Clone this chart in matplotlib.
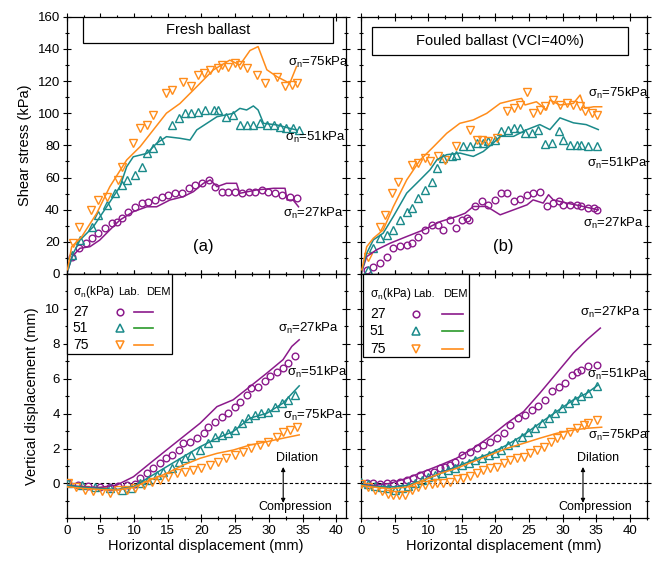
import matplotlib
matplotlib.use("Agg")
import matplotlib.pyplot as plt
from matplotlib.patches import Rectangle
from matplotlib.ticker import MultipleLocator

plt.rcParams['font.family'] = ['Liberation Sans', 'DejaVu Sans']
plt.rcParams['mathtext.fontset'] = 'custom'
plt.rcParams['mathtext.rm'] = 'Liberation Sans'
plt.rcParams['mathtext.it'] = 'Liberation Sans'

PURPLE = '#8b1a8b'
TEAL = '#1a8a8a'
GREEN = '#2a9a2a'
ORANGE = '#ff8c1a'

# ---------------- Fresh ballast: shear stress ----------------
fa_dem75_x = [0, 0.74, 2.2, 4.45, 6.4, 8.9, 10.9, 12.85, 14.8, 16.8, 19.3, 21.75, 24.2, 25.7, 27.2, 28.4, 29.7, 31.2, 33.1, 34.1]
fa_dem75_y = [0, 17, 23, 37.7, 54.3, 70.9, 79.2, 89.6, 100, 106, 116.5, 126.9, 133, 130, 139, 141.4, 127, 122.7, 118.6, 129]
fa_lab75_x = [0.98, 1.83, 3.56, 4.69, 5.93, 7.66, 8.16, 9.88, 10.9, 11.9, 12.85, 14.8, 15.6, 17.3, 18.5, 19.5, 20.4, 21.3, 22.5, 23.1, 24.0, 25.0, 25.7, 26.7, 28.2, 29.4, 31.2, 32.4, 33.4, 34.1]
fa_lab75_y = [19.1, 29.4, 39.8, 46, 48.1, 58.5, 66.7, 81.3, 90.6, 92.7, 98.9, 112.4, 114.4, 119.6, 116.9, 123.8, 124.8, 126.9, 127.9, 130, 128.9, 131.4, 130, 127.9, 123.8, 118.6, 122.7, 116.9, 117.5, 118.6]
fa_dem51_x = [0, 0.98, 1.97, 3.95, 5.93, 7.9, 8.9, 9.88, 11.9, 13.35, 14.8, 16.8, 18.3, 19.3, 20.8, 22.3, 24.7, 25.7, 26.7, 27.7, 28.4, 29.2, 31.2, 33.1, 34.1]
fa_dem51_y = [0, 12.9, 21.1, 29.4, 41.8, 54.3, 66.7, 72.9, 75, 81.3, 85.4, 84.4, 83.3, 89.6, 93.7, 97.8, 99.9, 103, 102, 104.5, 102, 93.7, 92.7, 90.6, 89.6]
fa_lab51_x = [0.8, 1.97, 3.7, 4.69, 5.93, 7.17, 8.16, 8.9, 10.1, 11.1, 11.9, 12.85, 13.85, 15.6, 16.6, 17.6, 18.5, 19.5, 20.5, 21.8, 22.5, 23.7, 24.7, 25.7, 26.7, 27.7, 28.7, 29.7, 30.7, 31.7, 32.6, 33.6, 34.4]
fa_lab51_y = [11.8, 21.1, 29.4, 36.7, 42.9, 50.2, 55.3, 58.5, 61.6, 66.7, 75, 78.2, 83.3, 92.7, 96.8, 99.9, 99.9, 100.9, 102, 102, 102, 97.8, 98.9, 92.7, 92.7, 92.7, 93.7, 92.7, 92.7, 91.6, 90.6, 90.6, 89.6]
fa_dem27_x = [0, 0.8, 1.97, 3.45, 4.9, 6.4, 7.9, 9.9, 11.9, 13.35, 15.3, 17.3, 18.8, 20.3, 21.3, 22.3, 23.7, 25.2, 25.7, 28.2, 30.7, 32.4, 32.7, 33.6, 34.4]
fa_dem27_y = [0, 10.8, 16, 17, 21.1, 27.4, 33.6, 38.8, 41.8, 41.8, 46, 48.1, 51.2, 56.4, 58.5, 54.3, 56.4, 56.4, 50.2, 52.3, 53.3, 53.3, 46, 46, 41.8]
fa_lab27_x = [0.8, 1.89, 2.93, 3.7, 4.69, 5.7, 6.68, 7.4, 8.16, 9.15, 10.1, 11.1, 12.1, 13.1, 14.1, 15.1, 16.1, 17.1, 18.1, 19.1, 20.1, 21.1, 22.0, 23.0, 24.0, 25.0, 26.0, 27.0, 28.0, 29.0, 29.9, 30.9, 31.9, 33.1, 34.1]
fa_lab27_y = [10.8, 16, 19.1, 22.2, 25.3, 28.4, 31.5, 32.5, 34.6, 38.8, 41.8, 43.9, 45, 46, 48.1, 49.1, 50.2, 50.2, 53.3, 55.3, 56.4, 58.5, 54.3, 51.2, 51.2, 51.2, 50.2, 51.2, 51.2, 52.3, 51.2, 50.2, 49.1, 48.1, 47]

# ---------------- Fouled ballast: shear stress ----------------
fo_dem75_x = [0, 0.85, 1.83, 3.3, 4.8, 6.8, 8.8, 10.8, 12.75, 14.7, 16.7, 18.7, 20.7, 22.7, 23.9, 24.4, 26.1, 27.6, 28.1, 29.6, 31.6, 32.6, 33.3, 34.6, 35.8]
fo_dem75_y = [0, 17, 22.2, 27.4, 41.8, 58.5, 70.9, 79.2, 87.5, 93.7, 95.8, 99.9, 106.1, 108.2, 109.2, 105.1, 107.1, 102, 108.2, 105.1, 106.1, 111.3, 103, 104, 104]
fo_lab75_x = [1.09, 2.83, 3.57, 4.56, 5.55, 7.54, 8.53, 9.52, 10.27, 11.5, 12.5, 14.2, 16.2, 17.2, 17.96, 18.9, 20.2, 21.7, 22.7, 23.7, 24.7, 25.6, 26.6, 27.4, 28.6, 29.6, 30.6, 31.6, 32.6, 33.3, 34.3, 35.1]
fo_lab75_y = [10.8, 29.5, 36.8, 50.3, 57.5, 68, 69, 72.1, 70, 73.1, 71.1, 79.4, 89.8, 83.5, 83.5, 82.5, 84.6, 101.2, 103.3, 105.4, 113, 100.2, 102.2, 104.3, 108.5, 105.4, 106.4, 105.4, 104.3, 101.2, 100.2, 99.1]
fo_dem51_x = [0, 0.85, 1.83, 3.3, 4.8, 6.8, 8.8, 10.27, 11.3, 12.75, 14.7, 16.7, 18.2, 19.7, 20.7, 22.7, 24.7, 26.6, 28.1, 29.6, 31.6, 33.5, 35.3]
fo_dem51_y = [0, 12.9, 21.2, 25.4, 35.7, 50.3, 58.6, 64.8, 71.1, 74.2, 75.2, 73.1, 76.2, 81.5, 85.6, 85.6, 89.8, 92.9, 89.8, 97.1, 94, 92.9, 89.8]
fo_lab51_x = [1.09, 1.83, 2.83, 3.82, 4.8, 5.8, 6.8, 7.54, 8.53, 9.52, 10.5, 11.3, 12.25, 13.5, 14.2, 15.2, 16.2, 17.2, 18.2, 18.9, 19.9, 20.9, 21.9, 22.7, 23.7, 24.4, 25.4, 26.4, 27.4, 28.4, 29.4, 30.1, 31.1, 32.1, 32.8, 33.8, 35.1]
fo_lab51_y = [2.5, 16, 22.2, 24.3, 27.4, 33.7, 38.8, 41, 47.2, 52.4, 57.5, 65.9, 72.1, 73.1, 74.2, 79.4, 79.4, 81.5, 81.5, 82.5, 83.5, 88.7, 89.8, 90.8, 90.8, 87.7, 87.7, 89.8, 81, 81.5, 88.7, 83.5, 80.4, 80.4, 80.4, 79.4, 79.4]
fo_dem27_x = [0, 0.85, 2.3, 4.3, 6.8, 9.3, 11.8, 14.2, 15.5, 16.7, 18.7, 20.7, 22.7, 24.7, 25.6, 27.1, 27.9, 28.6, 30.6, 32.6, 35.3]
fo_dem27_y = [0, 10.8, 15, 19.1, 23.3, 27.4, 32.6, 35.7, 37.8, 42, 42, 36.8, 39.9, 43, 46.1, 44.1, 49.3, 46.1, 44.1, 42.4, 39.9]
fo_lab27_x = [0.85, 1.83, 2.83, 3.82, 4.8, 5.8, 6.8, 7.54, 8.53, 9.52, 10.5, 11.5, 12.25, 13.25, 14.2, 15.0, 15.7, 16.0, 17.0, 17.96, 18.9, 19.9, 20.9, 21.7, 22.7, 23.7, 24.7, 25.6, 26.6, 27.6, 28.6, 29.4, 30.1, 31.1, 32.1, 32.8, 33.8, 34.6, 35.1]
fo_lab27_y = [2.5, 4.6, 6.7, 10.8, 16, 17.5, 18.1, 19.1, 23.3, 27.4, 30.5, 30.5, 27.4, 33.7, 28.5, 33.7, 34.7, 33.7, 42, 45.1, 43, 46.1, 50.3, 50.3, 45.1, 46.8, 49.3, 50.3, 50.7, 42, 44.1, 45.1, 43, 43, 43, 42, 41, 41, 39.9]

# ---------------- Fresh ballast: vertical displacement ----------------
fa_vdem27_x = [0, 2.5, 4.9, 7.4, 9.9, 12.35, 14.8, 17.3, 19.8, 22.3, 24.7, 27.2, 29.7, 32.1, 33.4, 34.5]
fa_vdem27_y = [-0.1, -0.2, -0.23, -0.1, 0.38, 1.15, 1.91, 2.68, 3.45, 4.4, 4.79, 5.55, 6.32, 7.09, 7.85, 8.23]
fa_vlab27_x = [0.24, 1.72, 3.2, 4.9, 6.4, 7.66, 8.9, 10.1, 10.9, 11.9, 12.85, 13.85, 14.8, 15.6, 16.6, 17.3, 18.3, 19.3, 20.3, 21.0, 22.0, 23.0, 24.0, 25.0, 25.7, 26.7, 27.4, 28.4, 29.4, 30.2, 31.2, 32.1, 32.9, 33.9]
fa_vlab27_y = [0.03, -0.1, -0.15, -0.19, -0.19, -0.15, -0.1, -0.04, 0.29, 0.57, 0.86, 1.15, 1.44, 1.63, 1.91, 2.3, 2.39, 2.59, 2.87, 3.25, 3.54, 3.83, 4.02, 4.4, 4.69, 5.07, 5.46, 5.55, 5.84, 6.13, 6.41, 6.61, 6.9, 7.28]
fa_vdem51_x = [0, 2.5, 4.9, 7.4, 9.9, 12.35, 14.8, 17.3, 19.8, 22.3, 24.7, 27.2, 29.7, 32.1, 34.5]
fa_vdem51_y = [-0.1, -0.23, -0.29, -0.35, -0.19, 0.38, 0.95, 1.53, 2.1, 2.59, 2.97, 3.74, 4.02, 4.6, 5.59]
fa_vlab51_x = [0.24, 2.2, 4.2, 6.4, 8.16, 9.6, 10.9, 12.1, 13.35, 14.3, 15.6, 16.6, 17.6, 18.5, 19.8, 21.0, 22.0, 23.0, 24.0, 25.0, 26.0, 26.9, 27.9, 28.9, 29.9, 30.9, 31.9, 32.9, 33.9]
fa_vlab51_y = [0.03, -0.1, -0.19, -0.29, -0.38, -0.29, 0, 0.19, 0.48, 0.67, 0.86, 1.25, 1.44, 1.63, 1.91, 2.3, 2.68, 2.78, 2.87, 3.06, 3.45, 3.74, 3.93, 4.02, 4.12, 4.4, 4.6, 4.79, 5.07]
fa_vdem75_x = [0, 2.5, 4.9, 7.4, 9.9, 12.35, 14.8, 17.3, 19.8, 22.3, 24.7, 27.2, 29.7, 32.1, 34.5]
fa_vdem75_y = [-0.19, -0.29, -0.35, -0.38, -0.23, 0.19, 0.57, 1.05, 1.44, 1.72, 1.91, 2.2, 2.39, 2.59, 2.78]
fa_vlab75_x = [0.24, 1.4, 2.7, 3.9, 5.2, 6.4, 7.66, 8.9, 10.1, 11.4, 12.6, 13.85, 15.1, 16.3, 17.6, 18.8, 20.0, 21.3, 22.5, 23.7, 25.0, 26.2, 27.4, 28.7, 29.9, 31.2, 32.1, 33.1, 34.1]
fa_vlab75_y = [0, -0.19, -0.35, -0.42, -0.42, -0.54, -0.38, -0.35, -0.29, -0.1, 0.1, 0.19, 0.38, 0.57, 0.67, 0.77, 0.86, 1.05, 1.25, 1.44, 1.63, 1.82, 2.01, 2.2, 2.39, 2.68, 2.97, 3.06, 3.25]

# ---------------- Fouled ballast: vertical displacement ----------------
fo_vdem27_x = [0, 1.83, 4.3, 6.8, 9.3, 11.8, 14.2, 16.7, 19.2, 21.7, 24.2, 26.6, 29.1, 31.6, 33.6, 35.6]
fo_vdem27_y = [-0.06, -0.12, 0, 0.29, 0.67, 1.05, 1.44, 2.01, 2.68, 3.45, 4.12, 5.17, 6.32, 7.47, 8.23, 8.9]
fo_vlab27_x = [0, 0.85, 1.83, 2.83, 3.82, 4.8, 5.8, 6.8, 7.8, 8.8, 9.8, 10.8, 11.8, 12.5, 13.25, 14.0, 15.0, 16.2, 17.2, 18.2, 19.2, 20.2, 21.2, 22.2, 23.4, 24.4, 25.4, 26.4, 27.4, 28.4, 29.4, 30.4, 31.4, 32.1, 32.8, 33.8, 35.1]
fo_vlab27_y = [0.03, 0, 0, -0.04, 0, 0.03, 0.09, 0.19, 0.29, 0.48, 0.57, 0.67, 0.86, 0.96, 1.05, 1.25, 1.63, 1.82, 2.01, 2.2, 2.39, 2.59, 2.87, 3.35, 3.74, 3.93, 4.22, 4.41, 4.79, 5.27, 5.55, 5.75, 6.22, 6.41, 6.51, 6.7, 6.8]
fo_vdem51_x = [0, 1.83, 4.3, 6.8, 9.3, 11.8, 14.2, 16.7, 19.2, 21.7, 24.2, 26.6, 29.1, 31.6, 33.6, 35.3]
fo_vdem51_y = [-0.06, -0.17, -0.21, -0.12, 0.19, 0.57, 0.96, 1.34, 1.72, 2.2, 2.78, 3.45, 4.12, 4.79, 5.17, 5.65]
fo_vlab51_x = [0, 1.09, 2.08, 3.08, 4.07, 5.06, 6.05, 7.04, 8.04, 9.03, 10.02, 11.0, 12.0, 13.0, 14.0, 15.0, 16.0, 17.0, 18.0, 19.0, 19.9, 20.9, 21.9, 22.9, 23.9, 24.9, 25.9, 26.9, 27.9, 28.9, 29.9, 30.9, 31.9, 32.8, 33.8, 35.1]
fo_vlab51_y = [0.09, -0.04, -0.15, -0.23, -0.29, -0.35, -0.29, -0.15, 0, 0.19, 0.38, 0.48, 0.57, 0.77, 0.86, 1.05, 1.15, 1.34, 1.44, 1.63, 1.76, 1.91, 2.2, 2.39, 2.68, 2.97, 3.16, 3.45, 3.74, 4.02, 4.31, 4.6, 4.79, 4.98, 5.17, 5.56]
fo_vdem75_x = [0, 1.83, 4.3, 6.8, 9.3, 11.8, 14.2, 16.7, 19.2, 21.7, 24.2, 26.6, 29.1, 31.6, 33.6, 35.8]
fo_vdem75_y = [-0.12, -0.21, -0.31, -0.21, 0.19, 0.57, 0.86, 1.25, 1.63, 2.01, 2.3, 2.59, 2.87, 3.06, 3.16, 3.22]
fo_vlab75_x = [0, 1.09, 2.08, 3.08, 4.07, 4.8, 5.7, 6.55, 7.54, 8.53, 9.52, 10.5, 11.26, 12.25, 13.25, 14.24, 15.2, 16.2, 17.2, 18.2, 19.2, 20.2, 21.2, 22.2, 23.2, 24.2, 25.2, 26.2, 27.2, 28.2, 29.2, 30.1, 31.1, 32.1, 33.1, 33.8, 35.1]
fo_vlab75_y = [-0.04, -0.19, -0.35, -0.42, -0.58, -0.67, -0.67, -0.67, -0.38, -0.19, -0.1, -0.04, 0, 0.03, 0.09, 0.23, 0.29, 0.42, 0.57, 0.77, 0.86, 0.96, 1.15, 1.34, 1.44, 1.53, 1.72, 1.91, 2.1, 2.39, 2.59, 2.78, 2.97, 3.16, 3.35, 3.45, 3.64]

stress_levels = ['27', '51', '75']
panel_titles = ['Fresh ballast', 'Fouled ballast (VCI=40%)']
panel_letters = ['(a)', '(b)']

W, H = 665, 561
fig = plt.figure(figsize=(W / 100, H / 100), dpi=100)


def ax_px(x0, x1, ytop, ybot):
    return fig.add_axes([x0 / W, (H - ybot) / H, (x1 - x0) / W, (ybot - ytop) / H])


axTL = ax_px(66.7, 345.7, 16.7, 274)
axBL = ax_px(66.7, 345.7, 274, 518.3)
axTR = ax_px(361, 646.7, 16.7, 274)
axBR = ax_px(361, 646.7, 274, 518.3)

lw = 1.1
ms_c, ms_t = 4.8, 5.8


def draw(ax, dem, lab):
    cols = [PURPLE, TEAL, ORANGE]
    mk = ['o', '^', 'v']
    for (dx, dy), (lx, ly), c, m in zip(dem, lab, cols, mk):
        ax.plot(lx, ly, linestyle='none', marker=m, mfc='none', mec=c,
                mew=1.0, ms=ms_c if m == 'o' else ms_t, zorder=3)
        ax.plot(dx, dy, color=c, lw=lw, zorder=4)


draw(axTL, [(fa_dem27_x, fa_dem27_y), (fa_dem51_x, fa_dem51_y), (fa_dem75_x, fa_dem75_y)],
     [(fa_lab27_x, fa_lab27_y), (fa_lab51_x, fa_lab51_y), (fa_lab75_x, fa_lab75_y)])
draw(axTR, [(fo_dem27_x, fo_dem27_y), (fo_dem51_x, fo_dem51_y), (fo_dem75_x, fo_dem75_y)],
     [(fo_lab27_x, fo_lab27_y), (fo_lab51_x, fo_lab51_y), (fo_lab75_x, fo_lab75_y)])
draw(axBL, [(fa_vdem27_x, fa_vdem27_y), (fa_vdem51_x, fa_vdem51_y), (fa_vdem75_x, fa_vdem75_y)],
     [(fa_vlab27_x, fa_vlab27_y), (fa_vlab51_x, fa_vlab51_y), (fa_vlab75_x, fa_vlab75_y)])
draw(axBR, [(fo_vdem27_x, fo_vdem27_y), (fo_vdem51_x, fo_vdem51_y), (fo_vdem75_x, fo_vdem75_y)],
     [(fo_vlab27_x, fo_vlab27_y), (fo_vlab51_x, fo_vlab51_y), (fo_vlab75_x, fo_vlab75_y)])

FS = 9.5
for ax, xmax in [(axTL, 41.4), (axBL, 41.4), (axTR, 42.5), (axBR, 42.5)]:
    ax.set_xlim(0, xmax)
    ax.xaxis.set_major_locator(MultipleLocator(5))
    ax.xaxis.set_minor_locator(MultipleLocator(2.5))
    ax.tick_params(which='both', direction='inout', top=True, right=True,
                   labelsize=FS, width=0.8, pad=2)
    ax.tick_params(which='major', length=6)
    ax.tick_params(which='minor', length=3.5)
    for s in ax.spines.values():
        s.set_linewidth(0.9)

for ax in (axTL, axTR):
    ax.set_ylim(0, 160)
    ax.yaxis.set_major_locator(MultipleLocator(20))
    ax.yaxis.set_minor_locator(MultipleLocator(10))
    ax.tick_params(labelbottom=False)
for ax in (axBL, axBR):
    ax.set_ylim(-2, 12)
    ax.set_yticks([0, 2, 4, 6, 8, 10])
    ax.yaxis.set_minor_locator(MultipleLocator(1))
    ax.axhline(0, color='black', lw=0.8, ls=(0, (3, 2)), zorder=1)
    ax.set_xlabel('Horizontal displacement (mm)', fontsize=10.5, labelpad=1)
for ax in (axTR, axBR):
    ax.tick_params(labelleft=False)

axTL.set_ylabel('Shear stress (kPa)', fontsize=10.5, labelpad=4)
axBL.set_ylabel('Vertical displacement (mm)', fontsize=10.5, labelpad=4)

# title boxes
for ax, t, (x0, x1, y0, y1) in [(axTL, panel_titles[0], (0.058, 0.955, 0.898, 0.998)),
                                (axTR, panel_titles[1], (0.0385, 0.934, 0.851, 0.96))]:
    ax.add_patch(Rectangle((x0, y0), x1 - x0, y1 - y0, transform=ax.transAxes,
                           fill=True, fc='white', ec='black', lw=0.9, zorder=5))
    ax.text((x0 + x1) / 2, (y0 + y1) / 2, t, transform=ax.transAxes,
            ha='center', va='center', fontsize=10.5, zorder=6)

axTL.text(0.489, 0.105, panel_letters[0], transform=axTL.transAxes, ha='center', va='center', fontsize=12)
axTR.text(0.497, 0.105, panel_letters[1], transform=axTR.transAxes, ha='center', va='center', fontsize=12)

SIG = 'σ$_{\\mathregular{n}}$'
AFS = 9.5


def sig(ax, x, y, lvl):
    ax.text(x, y, SIG + '=' + lvl + 'kPa', transform=ax.transAxes,
            ha='left', va='center', fontsize=AFS, zorder=6)


for ax, pos in [(axTL, [(0.775, 0.237), (0.782, 0.529), (0.793, 0.824)]),
                (axTR, [(0.777, 0.198), (0.791, 0.431), (0.795, 0.703)]),
                (axBL, [(0.757, 0.779), (0.790, 0.596), (0.775, 0.423)]),
                (axBR, [(0.767, 0.841), (0.791, 0.587), (0.795, 0.341)])]:
    for (x, y), lvl in zip(pos, stress_levels):
        sig(ax, x, y, lvl)

# dilation / compression
for ax, ax_x, dx, cx in [(axBL, 0.776, 0.826, 0.819), (axBR, 0.777, 0.83, 0.819)]:
    ax.annotate('', xy=(ax_x, 0.21), xytext=(ax_x, 0.063), xycoords='axes fraction',
                arrowprops=dict(arrowstyle='<|-|>', lw=0.8, color='black',
                                mutation_scale=6, shrinkA=0, shrinkB=0))
    ax.text(dx, 0.245, 'Dilation', transform=ax.transAxes, ha='center', va='center', fontsize=9)
    ax.text(cx, 0.046, 'Compression', transform=ax.transAxes, ha='center', va='center', fontsize=9)


# legend tables
def table(ax, x0, x1, y0, hx, labx, demx, mx, lx0, lx1, rows_y, hy):
    ax.add_patch(Rectangle((x0, y0), x1 - x0, 1.0 - y0, transform=ax.transAxes,
                           fc='white', ec='black', lw=0.9, zorder=7, clip_on=False))
    ax.text(hx, hy, SIG + '(kPa)', transform=ax.transAxes, ha='left', va='center', fontsize=8.5, zorder=8)
    ax.text(labx, hy, 'Lab.', transform=ax.transAxes, ha='center', va='center', fontsize=8, zorder=8)
    ax.text(demx, hy, 'DEM', transform=ax.transAxes, ha='center', va='center', fontsize=8, zorder=8)
    cols_m = [PURPLE, TEAL, ORANGE]
    cols_l = [PURPLE, GREEN, ORANGE]
    for lvl, ry, cm, cl, m in zip(stress_levels, rows_y, cols_m, cols_l, ['o', '^', 'v']):
        ax.text(hx, ry, lvl, transform=ax.transAxes, ha='left', va='center', fontsize=10, zorder=8)
        ax.plot([mx], [ry], transform=ax.transAxes, marker=m, mfc='none', mec=cm, mew=1.1,
                ms=ms_c if m == 'o' else ms_t + 0.6, zorder=8, clip_on=False)
        ax.plot([lx0, lx1], [ry, ry], transform=ax.transAxes, color=cl, lw=1.2, zorder=8, clip_on=False)


table(axBL, 0.0, 0.376, 0.672, 0.022, 0.222, 0.33, 0.19, 0.242, 0.31, [0.845, 0.777, 0.708], 0.925)
table(axBR, 0.006, 0.379, 0.661, 0.031, 0.222, 0.33, 0.193, 0.282, 0.356, [0.838, 0.766, 0.695], 0.918)

fig.savefig('out.png', dpi=100)
